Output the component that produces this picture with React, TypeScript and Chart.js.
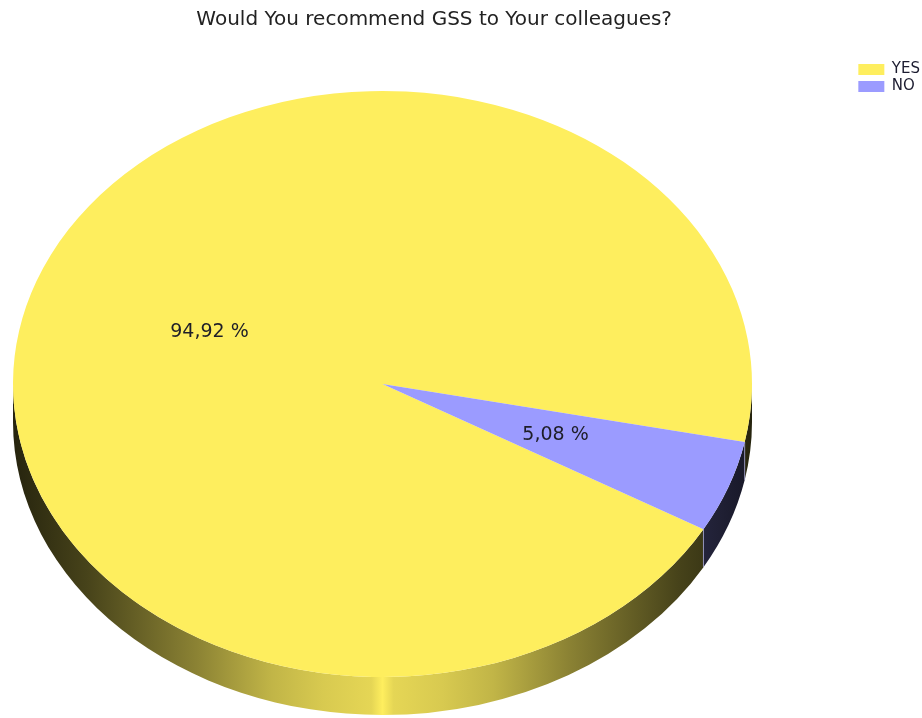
import { useEffect, useRef } from 'react';
import { Chart, registerables } from 'chart.js';

Chart.register(...registerables);

const TITLE = 'Would You recommend GSS to Your colleagues?';
const CATEGORIES = ['YES', 'NO'];
const VALUES = [94.92, 5.08];
const COLORS = ['#FEEE5E', '#9B9BFF'];
const START_ROTATION = 119.7; // degrees, clockwise from 12 o'clock

// visual layout of the tilted pie
const CX = 382.5;
const CY = 384;
const RX = 369.5;
const RY = 293;
const DEPTH = 38;
const FONT = '"DejaVu Sans", Verdana, sans-serif';

const SHADE_STOPS: [number, number][] = [
  [0, 0.15],
  [0.1, 0.28],
  [0.25, 0.55],
  [0.35, 0.76],
  [0.42, 0.85],
  [0.485, 0.9],
  [0.5, 1.0],
  [0.515, 0.9],
  [0.58, 0.85],
  [0.65, 0.76],
  [0.75, 0.55],
  [0.9, 0.28],
  [1, 0.15],
];

function shade(hex: string, f: number) {
  const n = parseInt(hex.slice(1), 16);
  const r = Math.round(((n >> 16) & 255) * f);
  const g = Math.round(((n >> 8) & 255) * f);
  const b = Math.round((n & 255) * f);
  return `rgb(${r},${g},${b})`;
}

const pie3d = {
  id: 'pie3d',
  beforeDatasetsDraw(chart: any) {
    const meta = chart.getDatasetMeta(0);
    const ctx = chart.ctx as CanvasRenderingContext2D;
    ctx.save();
    meta.data.forEach((arc: any, i: number) => {
      const { startAngle, endAngle } = arc;
      const grad = ctx.createLinearGradient(CX - RX, 0, CX + RX, 0);
      SHADE_STOPS.forEach(([p, f]) => grad.addColorStop(p, shade(COLORS[i], f)));
      for (let k = -1; k <= 2; k++) {
        const lo = Math.max(startAngle, 2 * Math.PI * k);
        const hi = Math.min(endAngle, 2 * Math.PI * k + Math.PI);
        if (hi <= lo) continue;
        ctx.beginPath();
        ctx.ellipse(CX, CY, RX, RY, 0, lo, hi);
        ctx.ellipse(CX, CY + DEPTH, RX, RY, 0, hi, lo, true);
        ctx.closePath();
        ctx.fillStyle = grad;
        ctx.fill();
      }
    });
    // slice boundary lines on the side wall
    meta.data.forEach((arc: any) => {
      const a = ((arc.startAngle % (2 * Math.PI)) + 2 * Math.PI) % (2 * Math.PI);
      if (a > 0.02 && a < Math.PI - 0.02) {
        const x = CX + RX * Math.cos(a);
        const y = CY + RY * Math.sin(a);
        ctx.beginPath();
        ctx.moveTo(x, y);
        ctx.lineTo(x, y + DEPTH);
        ctx.strokeStyle = 'rgba(170,170,220,0.7)';
        ctx.lineWidth = 1;
        ctx.stroke();
      }
    });
    ctx.restore();

    const a0 = meta.data[0];
    ctx.save();
    ctx.translate(CX, CY);
    ctx.scale(RX / a0.outerRadius, RY / a0.outerRadius);
    ctx.translate(-a0.x, -a0.y);
  },
  afterDatasetsDraw(chart: any) {
    const ctx = chart.ctx as CanvasRenderingContext2D;
    ctx.restore();
    const meta = chart.getDatasetMeta(0);
    const data = chart.data.datasets[0].data as number[];
    const total = data.reduce((s, v) => s + v, 0);
    ctx.save();
    ctx.font = `19px ${FONT}`;
    ctx.fillStyle = '#1e1e28';
    ctx.textAlign = 'center';
    ctx.textBaseline = 'middle';
    meta.data.forEach((arc: any, i: number) => {
      const mid = (arc.startAngle + arc.endAngle) / 2;
      const x = CX + 0.5 * RX * Math.cos(mid);
      const y = CY + 0.5 * RY * Math.sin(mid);
      const pct = ((data[i] / total) * 100).toFixed(2).replace('.', ',') + ' %';
      ctx.fillText(pct, x, y);
    });
    ctx.restore();
  },
};

export default function App() {
  const ref = useRef<HTMLCanvasElement | null>(null);

  useEffect(() => {
    if (!ref.current) return;
    const chart = new Chart(ref.current, {
      type: 'pie',
      data: {
        labels: CATEGORIES,
        datasets: [
          {
            data: VALUES,
            backgroundColor: COLORS,
            borderWidth: 0,
            radius: RY,
          } as any,
        ],
      },
      options: {
        responsive: false,
        animation: false,
        devicePixelRatio: 1,
        events: [],
        rotation: START_ROTATION,
        layout: { padding: { left: 12, right: -8, top: 0, bottom: 0 } },
        plugins: {
          title: {
            display: true,
            text: TITLE,
            fullSize: false,
            color: '#222',
            font: { family: FONT, size: 20, weight: 'normal' as any },
            padding: { top: 8, bottom: 28 },
          },
          legend: {
            display: true,
            position: 'right',
            align: 'start',
            fullSize: false,
            labels: {
              boxWidth: 26,
              boxHeight: 11,
              padding: 2,
              color: '#1c1c30',
              font: { family: FONT, size: 15 },
            },
          },
          tooltip: { enabled: false },
        },
      },
      plugins: [pie3d],
    });
    return () => chart.destroy();
  }, []);

  return (
    <div style={{ position: 'absolute', left: 0, top: 0, width: 922, height: 718, background: '#fff' }}>
      <canvas ref={ref} width={922} height={718} style={{ display: 'block' }} />
    </div>
  );
}
